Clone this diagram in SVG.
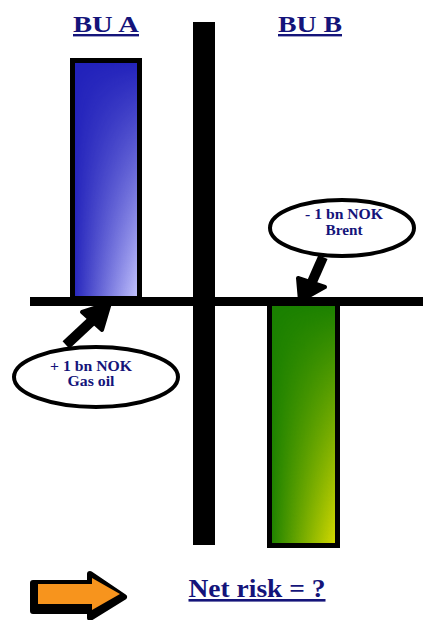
<svg xmlns="http://www.w3.org/2000/svg" width="423" height="620" viewBox="0 0 423 620">
<style>
.title{font-family:"Liberation Serif",serif;font-weight:bold;fill:#14147a;text-decoration:underline;text-anchor:middle}
.lbl{font-family:"Liberation Serif",serif;font-weight:bold;font-size:15px;fill:#14147a;text-anchor:middle}
.bub{fill:#fff;stroke:#000;stroke-width:4}
.bar{stroke:#000;stroke-width:5}
</style>
<defs>
<linearGradient id="hx" x1="0" y1="0" x2="1" y2="0">
<stop offset="0" stop-color="#fff" stop-opacity="0"/><stop offset="1" stop-color="#fff" stop-opacity="1"/>
</linearGradient>
<linearGradient id="vy" x1="0" y1="0" x2="0" y2="1">
<stop offset="0" stop-color="#000"/><stop offset="1" stop-color="#fff"/>
</linearGradient>
<mask id="ma" maskUnits="userSpaceOnUse" x="0" y="0" width="423" height="620">
<rect x="72.500" y="60.500" width="67" height="238" fill="url(#vy)"/>
</mask>
<mask id="mb" maskUnits="userSpaceOnUse" x="0" y="0" width="423" height="620">
<rect x="269.500" y="302" width="68" height="243.500" fill="url(#vy)"/>
</mask>
<linearGradient id="lb" x1="0" y1="0" x2="1" y2="0">
<stop offset="0" stop-color="#c8c8ff" stop-opacity="0"/><stop offset="1" stop-color="#c8c8ff" stop-opacity="1"/>
</linearGradient>
<linearGradient id="lg" x1="0" y1="0" x2="1" y2="0">
<stop offset="0" stop-color="#dcdc00" stop-opacity="0"/><stop offset="1" stop-color="#dcdc00" stop-opacity="1"/>
</linearGradient>
</defs>
<rect width="423" height="620" fill="#fff"/>
<g id="title-a"><text class="title" x="106" y="32" font-size="24" textLength="66" lengthAdjust="spacingAndGlyphs">BU A</text></g>
<g id="title-b"><text class="title" x="310" y="32" font-size="24" textLength="64" lengthAdjust="spacingAndGlyphs">BU B</text></g>
<g id="bar-a">
<rect x="72.500" y="60.500" width="67" height="238" fill="#2222bb"/>
<rect x="72.500" y="60.500" width="67" height="238" fill="url(#lb)" mask="url(#ma)"/>
<rect class="bar" x="72.500" y="60.500" width="67" height="238" fill="none"/>
</g>
<g id="bar-b">
<rect x="269.500" y="302" width="68" height="243.500" fill="#1a8000"/>
<rect x="269.500" y="302" width="68" height="243.500" fill="url(#lg)" mask="url(#mb)"/>
<rect class="bar" x="269.500" y="302" width="68" height="243.500" fill="none"/>
</g>
<g id="axes">
<rect x="193" y="22" width="22" height="523" fill="#000"/>
<rect x="30" y="297" width="393" height="9" fill="#000"/>
</g>
<g id="connectors">
<line x1="66" y1="345" x2="96" y2="317" stroke="#000" stroke-width="10"/>
<polygon points="82,312 110,303 102,330" fill="#000" stroke="#000" stroke-width="4" stroke-linejoin="round"/>
<line x1="323" y1="257" x2="312" y2="282" stroke="#000" stroke-width="10"/>
<polygon points="298,278 325,287 300,301" fill="#000" stroke="#000" stroke-width="4" stroke-linejoin="round"/>
</g>
<g id="bubble-a">
<ellipse class="bub" cx="96" cy="377" rx="82" ry="30"/>
<text class="lbl" x="91" y="371" textLength="82" lengthAdjust="spacingAndGlyphs">+ 1 bn NOK</text>
<text class="lbl" x="91" y="386" textLength="47" lengthAdjust="spacingAndGlyphs">Gas oil</text>
</g>
<g id="bubble-b">
<ellipse class="bub" cx="342" cy="228" rx="72" ry="28"/>
<text class="lbl" x="344" y="219" textLength="78" lengthAdjust="spacingAndGlyphs">- 1 bn NOK</text>
<text class="lbl" x="344" y="235" textLength="37" lengthAdjust="spacingAndGlyphs">Brent</text>
</g>
<g id="orange-arrow">
<polygon points="33,583 90,583 90,574 124,597 90,618 90,611 33,611" fill="#000" stroke="#000" stroke-width="6" stroke-linejoin="round"/>
<polygon points="38,584 92,584 92,578 120,594 92,610 92,604 38,604" fill="#f7941d"/>
</g>
<g id="net-risk"><text class="title" x="257" y="597" font-size="26" textLength="137" lengthAdjust="spacingAndGlyphs">Net risk = ?</text></g>
</svg>
